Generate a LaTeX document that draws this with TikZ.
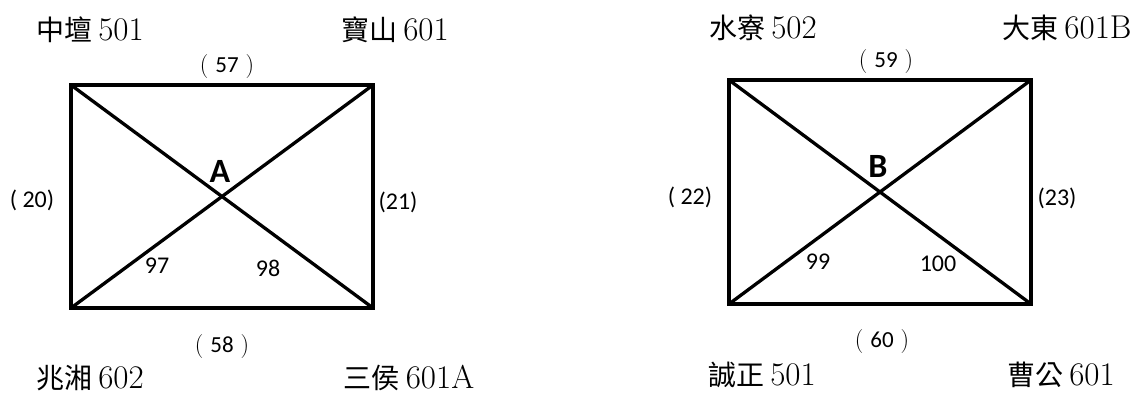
\documentclass[tikz,border=0pt]{standalone}
\usepackage{fontspec}
\newfontfamily\cjkfont{Noto Sans CJK TC}
\newfontfamily\calfont{Carlito}
\newcommand{\place}[2]{{\cjkfont\fontsize{28}{28}\selectfont #1}\hspace{6pt}{\fontsize{33}{33}\selectfont #2}}
\newcommand{\fwpar}[1]{{\fontsize{24}{24}\selectfont (}\hspace{7pt}{\calfont\fontsize{23}{23}\selectfont #1}\hspace{7pt}{\fontsize{24}{24}\selectfont )}}
\begin{document}
\begin{tikzpicture}[x=1pt,y=-1pt,
  edge/.style={line width=3.7pt, line cap=rect},
  diag/.style={line width=3.3pt},
  site/.style={inner sep=0pt, anchor=center},
  num/.style={inner sep=0pt, anchor=center, font=\calfont\fontsize{24}{24}\selectfont},
  fwnum/.style={inner sep=0pt, anchor=center},
  big/.style={inner sep=0pt, anchor=center, font=\calfont\bfseries\fontsize{34}{34}\selectfont}]
\useasboundingbox (0,0) rectangle (1138,394);
% left box
\coordinate (A1) at (71,85);
\coordinate (A2) at (373,85);
\coordinate (A3) at (373,308);
\coordinate (A4) at (71,308);
\draw[edge] (A1) -- (A2) -- (A3) -- (A4) -- cycle;
\draw[diag] (A1) -- (A3);
\draw[diag] (A2) -- (A4);
% right box
\coordinate (B1) at (729,80);
\coordinate (B2) at (1031,80);
\coordinate (B3) at (1031,304);
\coordinate (B4) at (729,304);
\draw[edge] (B1) -- (B2) -- (B3) -- (B4) -- cycle;
\draw[diag] (B1) -- (B3);
\draw[diag] (B2) -- (B4);
% left labels
\node[site] (zt) at (90,30) {\place{中壇}{501}};
\node[site] (bs) at (395,30) {\place{寶山}{601}};
\node[site] (zx) at (90,378) {\place{兆湘}{602}};
\node[site] (sh) at (409,378) {\place{三侯}{601A}};
\node[fwnum] (n57) at (227,67) {\fwpar{57}};
\node[fwnum] (n58) at (222,347) {\fwpar{58}};
\node[num] (n20) at (32,200) {( 20)};
\node[num] (n21) at (398,202) {(21)};
\node[num] (n97) at (157,266) {97};
\node[num] (n98) at (268,268) {98};
\node[big] (lA) at (220,171) {A};
% right labels
\node[site] (sl) at (763,28) {\place{水寮}{502}};
\node[site] (dd) at (1067,28) {\place{大東}{601B}};
\node[site] (cz) at (762,375) {\place{誠正}{501}};
\node[site] (cg) at (1061,375) {\place{曹公}{601}};
\node[fwnum] (n59) at (886,62) {\fwpar{59}};
\node[fwnum] (n60) at (882,342) {\fwpar{60}};
\node[num] (n22) at (690,197) {( 22)};
\node[num] (n23) at (1057,198) {(23)};
\node[num] (n99) at (818,262) {99};
\node[num] (n100) at (938,264) {100};
\node[big] (lB) at (878,166) {B};
\end{tikzpicture}
\end{document}
